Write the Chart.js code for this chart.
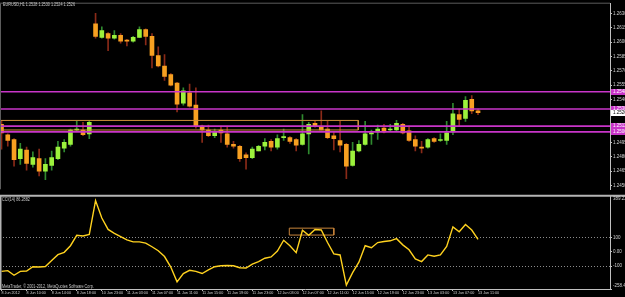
<!DOCTYPE html>
<html>
<head>
<meta charset="utf-8">
<title>EURUSD,H1</title>
<script src="https://cdn.jsdelivr.net/npm/chart.js@4.4.1/dist/chart.umd.min.js"></script>
<style>
    body { margin: 0; background: #000; width: 625px; height: 297px; overflow: hidden; position: relative; }
    #price-box { position: absolute; left: 0; top: 0; width: 625px; height: 193px; }
    #cci-box { position: absolute; left: 0; top: 192px; width: 625px; height: 105px; }
    .note { position: absolute; color: #c8c8c8; font-family: 'Liberation Sans', Arial, sans-serif;
            font-size: 4.6px; line-height: 5px; white-space: nowrap; transform-origin: 0 0; transform: scaleX(0.82); }
</style>
</head>
<body>
<div id="price-box"><canvas id="price-chart"></canvas></div>
<div id="cci-box"><canvas id="cci-chart"></canvas></div>
<div class="note" style="left:3px; top:2px;">EURUSD,H1 1.2528 1.2530 1.2524 1.2526</div>
<div class="note" style="left:2px; top:197px;">CCI(14) 86.2882</div>
<div class="note" style="left:2px; top:284px;">MetaTrader, © 2001-2012, MetaQuotes Software Corp.</div>
<script>
// H1 bars, 8 Jun 2012 06:00 .. 13 Jun 2012 11:00 (77 bars)
const opens = [1.2514, 1.2503, 1.2498, 1.2478, 1.2487, 1.2472, 1.2478, 1.2465, 1.2471, 1.2478,
    1.2489, 1.2493, 1.2508, 1.2508, 1.2504, 1.2619, 1.2605, 1.2609, 1.2604, 1.2607,
    1.2602, 1.2601, 1.2605, 1.2613, 1.2606, 1.2586, 1.2575, 1.2566, 1.2557, 1.2536,
    1.2547, 1.2534, 1.2512, 1.2508, 1.2502, 1.2508, 1.2504, 1.2493, 1.2491, 1.2482,
    1.2479, 1.2486, 1.2491, 1.2496, 1.2490, 1.2500, 1.2500, 1.2498, 1.2493, 1.2504,
    1.2515, 1.2511, 1.2509, 1.2502, 1.2497, 1.2493, 1.2471, 1.2486, 1.2493, 1.2504,
    1.2506, 1.2510, 1.2508, 1.2508, 1.2514, 1.2507, 1.2498, 1.2490, 1.2490, 1.2499,
    1.2497, 1.2497, 1.2506, 1.2524, 1.2520, 1.2540, 1.2528];
const highs = [1.2517, 1.2504, 1.2499, 1.2494, 1.2490, 1.2485, 1.2488, 1.2478, 1.2486, 1.2496,
    1.2498, 1.2509, 1.2517, 1.2516, 1.2517, 1.2630, 1.2616, 1.2610, 1.2612, 1.2609,
    1.2603, 1.2606, 1.2616, 1.2614, 1.2609, 1.2595, 1.2587, 1.2567, 1.2558, 1.2552,
    1.2556, 1.2552, 1.2513, 1.2513, 1.2509, 1.2512, 1.2512, 1.2496, 1.2492, 1.2484,
    1.2490, 1.2492, 1.2499, 1.2498, 1.2503, 1.2509, 1.2501, 1.2499, 1.2524, 1.2516,
    1.2517, 1.2528, 1.2517, 1.2506, 1.2517, 1.2494, 1.2495, 1.2497, 1.2517, 1.2508,
    1.2513, 1.2514, 1.2514, 1.2518, 1.2515, 1.2512, 1.2502, 1.2496, 1.2499, 1.2500,
    1.2504, 1.2517, 1.2536, 1.2530, 1.2543, 1.2544, 1.2530];
const lows = [1.2488, 1.2491, 1.2470, 1.2472, 1.2466, 1.2469, 1.2460, 1.2456, 1.2466, 1.2477,
    1.2485, 1.2491, 1.2507, 1.2502, 1.2499, 1.2604, 1.2604, 1.2591, 1.2603, 1.2599,
    1.2596, 1.2600, 1.2605, 1.2597, 1.2573, 1.2574, 1.2560, 1.2554, 1.2527, 1.2534,
    1.2532, 1.2510, 1.2495, 1.2501, 1.2500, 1.2495, 1.2490, 1.2489, 1.2475, 1.2467,
    1.2478, 1.2486, 1.2487, 1.2486, 1.2488, 1.2497, 1.2494, 1.2486, 1.2492, 1.2483,
    1.2511, 1.2508, 1.2499, 1.2487, 1.2485, 1.2457, 1.2470, 1.2485, 1.2492, 1.2493,
    1.2498, 1.2505, 1.2507, 1.2507, 1.2504, 1.2496, 1.2486, 1.2484, 1.2489, 1.2495,
    1.2496, 1.2493, 1.2503, 1.2512, 1.2517, 1.2525, 1.2524];
const closes = [1.2505, 1.2497, 1.2477, 1.2488, 1.2473, 1.2479, 1.2465, 1.2472, 1.2479, 1.2490,
    1.2495, 1.2508, 1.2509, 1.2503, 1.2516, 1.2606, 1.2612, 1.2604, 1.2607, 1.2601,
    1.2601, 1.2605, 1.2613, 1.2606, 1.2586, 1.2575, 1.2564, 1.2555, 1.2535, 1.2549,
    1.2533, 1.2512, 1.2508, 1.2502, 1.2506, 1.2505, 1.2493, 1.2491, 1.2478, 1.2479,
    1.2488, 1.2491, 1.2495, 1.2490, 1.2499, 1.2501, 1.2496, 1.2492, 1.2504, 1.2514,
    1.2512, 1.2508, 1.2500, 1.2499, 1.2492, 1.2470, 1.2486, 1.2493, 1.2504, 1.2505,
    1.2509, 1.2506, 1.2509, 1.2515, 1.2505, 1.2497, 1.2491, 1.2489, 1.2498, 1.2496,
    1.2498, 1.2505, 1.2525, 1.2519, 1.2539, 1.2528, 1.2526];

// CCI(14) for the same bars
const cciValues = [-136, -131, -163, -136, -134, -104, -106, -102, -61, -20,
    -4, 42, 114, 110, 121, 355, 234, 155, 128, 105,
    82, 69, 69, 60, 35, 7, -33, -106, -209, -151,
    -129, -136, -151, -126, -104, -97, -95, -97, -111, -113,
    -86, -68, -45, -36, 5, 80, 42, -6, 149, 114,
    155, 151, 64, -15, -22, -231, -145, -72, 42, 28,
    64, 71, 76, 91, 48, 14, -49, -68, -22, -31,
    -22, 37, 173, 139, 189, 151, 86.29];

// time axis labels, one every 4 bars
const timeLabels = ['8 Jun 2012', '8 Jun 10:00', '8 Jun 14:00', '8 Jun 18:00', '10 Jun 23:00',
    '11 Jun 03:00', '11 Jun 07:00', '11 Jun 11:00', '11 Jun 15:00', '11 Jun 19:00',
    '11 Jun 23:00', '12 Jun 03:00', '12 Jun 07:00', '12 Jun 11:00', '12 Jun 15:00',
    '12 Jun 19:00', '12 Jun 23:00', '13 Jun 03:00', '13 Jun 07:00', '13 Jun 11:00'];
const priceTicks = [1.2450, 1.2465, 1.2480, 1.2495, 1.2510, 1.2525, 1.2540,
    1.2555, 1.2570, 1.2585, 1.2600, 1.2615, 1.2630];
const cciTicks = [-258.489, -100, 0, 100, 389.226];
const cciTickLabels = ['-258.489', '-100', '0.00', '100', '389.226'];

// drawn objects: horizontal lines, zone box [end bar, low, high], cci box [from bar, to bar, low, high]
const hLevels = [1.2548, 1.2530, 1.2512, 1.2506];
const zoneBox = [56.9, 1.2508, 1.2518];
const cciBox = [45.9, 53.0, 116, 164];

const X_MIN = -0.24, X_MAX = 97.05;
const FONT = { family: "'Liberation Sans', Arial, sans-serif", size: 4.5 };
const TIME_FONT = { family: "'Liberation Sans', Arial, sans-serif", size: 3.7 };
const AXIS_GREY = '#c0c0c0';
const TEXT_GREY = '#d0d0d0';

const bullBody = '#9cf23c', bearBody = '#f7a021';
const bullWick = '#2f8a2f', bearWick = '#8a2a18';

const frame = {
    id: 'frame',
    afterDraw(chart, args, opts) {
        const { ctx, chartArea: a } = chart;
        ctx.save();
        ctx.strokeStyle = opts.color;
        ctx.lineWidth = opts.width;
        ctx.beginPath();
        ctx.moveTo(a.left + 0.5, a.bottom);
        ctx.lineTo(a.left + 0.5, a.top);
        ctx.moveTo(0, a.top - opts.shift);
        ctx.lineTo(opts.full ? chart.width : a.right, a.top - opts.shift);
        ctx.stroke();
        ctx.restore();
    }
};

const axisTags = {
    id: 'axisTags',
    afterDraw(chart, args, opts) {
        const { ctx, chartArea: a, scales } = chart;
        ctx.save();
        ctx.font = FONT.size + 'px ' + FONT.family;
        opts.tags.forEach(tag => {
            const py = Math.round(scales.y.getPixelForValue(tag.value));
            if (tag.bg) {
                ctx.fillStyle = tag.bg;
                ctx.fillRect(a.right + 1, py - 3, chart.width - a.right - 1, 6);
            }
            ctx.fillStyle = tag.fg;
            ctx.textBaseline = tag.baseline || 'middle';
            ctx.fillText(tag.text, a.right + 3, tag.baseline === 'top' ? py + 1 : tag.baseline === 'bottom' ? py - 1 : py);
        });
        ctx.restore();
    }
};

function loadPriceChart() {
    const ctx = document.getElementById('price-chart');
    const isBull = opens.map((o, i) => closes[i] >= o);

    const datasets = [{
        type: 'bar',
        label: 'bodies',
        data: opens.map((o, i) => ({ x: i, y: [o, closes[i]] })),
        backgroundColor: isBull.map(b => b ? bullBody : bearBody),
        barThickness: 4,
        minBarLength: 1,
        grouped: false,
        order: 1
    }, {
        type: 'bar',
        label: 'wicks',
        data: highs.map((h, i) => ({ x: i, y: [lows[i], h] })),
        backgroundColor: isBull.map(b => b ? bullWick : bearWick),
        barThickness: 1,
        grouped: false,
        order: 2
    }];

    hLevels.forEach(level => {
        datasets.push({
            type: 'line',
            data: [{ x: X_MIN, y: level }, { x: X_MAX, y: level }],
            borderColor: '#c835c8',
            borderWidth: 1.6,
            pointRadius: 0,
            order: 0
        });
    });

    datasets.push({
        type: 'line',
        data: [{ x: X_MIN, y: zoneBox[2] }, { x: zoneBox[0], y: zoneBox[2] },
               { x: zoneBox[0], y: zoneBox[1] }, { x: X_MIN, y: zoneBox[1] }],
        borderColor: '#d0903a',
        borderWidth: 1,
        pointRadius: 0,
        order: 0
    });

    const tags = hLevels.map(v => ({ value: v, text: v.toFixed(4), bg: '#c835c8', fg: '#ffffff' }));
    const last = closes[closes.length - 1];
    tags.push({ value: last, text: last.toFixed(4), bg: '#ffffff', fg: '#000000' });

    new Chart(ctx, {
        type: 'bar',
        data: { datasets },
        options: {
            responsive: true,
            maintainAspectRatio: false,
            animation: false,
            events: [],
            layout: { padding: { top: 2, bottom: 0, left: 0, right: 0 } },
            plugins: {
                legend: { display: false },
                tooltip: { enabled: false },
                frame: { color: '#5c5c5c', width: 1, shift: 0.5, full: false },
                axisTags: { tags }
            },
            scales: {
                x: { type: 'linear', display: false, min: X_MIN, max: X_MAX, offset: false, grid: { offset: false } },
                y: {
                    position: 'right',
                    min: 1.24459,
                    max: 1.26402,
                    afterBuildTicks: scale => { scale.ticks = priceTicks.map(v => ({ value: v })); },
                    afterFit: scale => { scale.width = 15; },
                    grid: { drawOnChartArea: false, tickLength: 2, color: AXIS_GREY },
                    border: { color: AXIS_GREY },
                    ticks: {
                        autoSkip: false,
                        padding: 1,
                        color: TEXT_GREY,
                        font: FONT,
                        callback: v => v.toFixed(4)
                    }
                }
            }
        },
        plugins: [frame, axisTags]
    });
}

function loadCciChart() {
    const ctx = document.getElementById('cci-chart');

    new Chart(ctx, {
        type: 'line',
        data: {
            datasets: [{
                label: 'CCI(14)',
                data: cciValues.map((v, i) => ({ x: i, y: v })),
                borderColor: '#ffd21f',
                borderWidth: 1.4,
                pointRadius: 0,
                tension: 0
            }, {
                label: 'box',
                data: [{ x: cciBox[0], y: cciBox[3] }, { x: cciBox[1], y: cciBox[3] },
                       { x: cciBox[1], y: cciBox[2] }, { x: cciBox[0], y: cciBox[2] },
                       { x: cciBox[0], y: cciBox[3] }],
                borderColor: '#c8843a',
                borderWidth: 1,
                pointRadius: 0
            }]
        },
        options: {
            responsive: true,
            maintainAspectRatio: false,
            animation: false,
            events: [],
            layout: { padding: { top: 2, bottom: 0, left: 0, right: 0 } },
            plugins: {
                legend: { display: false },
                tooltip: { enabled: false },
                frame: { color: '#b4b4b4', width: 2, shift: 0, full: true },
                axisTags: {
                    tags: [
                        { value: cciTicks[4], text: cciTickLabels[4], fg: TEXT_GREY, baseline: 'top' },
                        { value: cciTicks[0], text: cciTickLabels[0], fg: TEXT_GREY, baseline: 'bottom' }
                    ]
                }
            },
            scales: {
                x: {
                    type: 'linear',
                    min: X_MIN,
                    max: X_MAX,
                    offset: false,
                    afterBuildTicks: scale => { scale.ticks = timeLabels.map((t, k) => ({ value: k * 4 })); },
                    afterFit: scale => { scale.height = 8; },
                    grid: { drawOnChartArea: false, offset: false, tickLength: 2, color: AXIS_GREY },
                    border: { color: AXIS_GREY },
                    ticks: {
                        align: 'start',
                        autoSkip: false,
                        maxRotation: 0,
                        padding: 0,
                        color: TEXT_GREY,
                        font: TIME_FONT,
                        callback: (v, i) => timeLabels[i]
                    }
                },
                y: {
                    position: 'right',
                    min: cciTicks[0],
                    max: cciTicks[4],
                    afterBuildTicks: scale => { scale.ticks = cciTicks.map(v => ({ value: v })); },
                    afterFit: scale => { scale.width = 15; },
                    grid: {
                        tickLength: 2,
                        tickColor: AXIS_GREY,
                        color: c => (c.tick && Math.abs(c.tick.value) === 100) ? '#8c8c8c' : 'transparent'
                    },
                    border: { color: AXIS_GREY, dash: [1, 2] },
                    ticks: {
                        autoSkip: false,
                        padding: 1,
                        color: TEXT_GREY,
                        font: FONT,
                        // the two end labels are drawn inside the window by axisTags
                        callback: (v, i) => (i === 0 || i === cciTicks.length - 1) ? '' : cciTickLabels[i]
                    }
                }
            }
        },
        plugins: [frame, axisTags]
    });
}

loadPriceChart();
loadCciChart();
</script>
</body>
</html>
